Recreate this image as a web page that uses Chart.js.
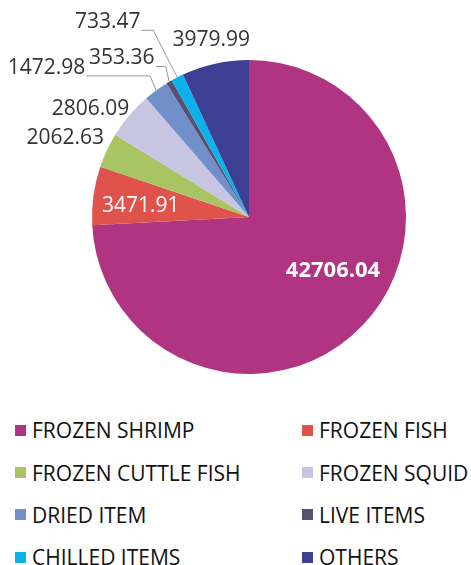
<!DOCTYPE html>
<html>
<head>
<meta charset="utf-8">
<script src="https://cdn.jsdelivr.net/npm/chart.js@4/dist/chart.umd.min.js"></script>
<style>
  html, body { margin: 0; padding: 0; background: #fff; }
  #wrap { width: 471px; height: 400px; position: relative; }
  #legend {
    display: grid;
    grid-template-columns: 302px 169px;
    grid-auto-rows: 42.4px;
    padding-top: 9px;
    font-family: "Open Sans", sans-serif;
    font-size: 21px;
    color: #111;
  }
  #legend div { display: flex; align-items: center; white-space: nowrap; }
  #legend div:nth-child(odd) { padding-left: 15px; }
  #legend span { width: 11px; height: 11px; margin-right: 6px; flex: none; }
</style>
</head>
<body>
<div id="wrap"><canvas id="pie"></canvas></div>
<div id="legend"></div>
<script>
const categories = ['FROZEN SHRIMP', 'FROZEN FISH', 'FROZEN CUTTLE FISH', 'FROZEN SQUID',
                    'DRIED ITEM', 'LIVE ITEMS', 'CHILLED ITEMS', 'OTHERS'];
const values = [42706.04, 3471.91, 2062.63, 2806.09, 1472.98, 353.36, 733.47, 3979.99];
const valueLabels = ['42706.04', '3471.91', '2062.63', '2806.09', '1472.98', '353.36', '733.47', '3979.99'];
const colors = ['#B03481', '#E0524C', '#A9C563', '#C8C5E2', '#7190C9', '#58516F', '#0BB1E9', '#3D3F94'];

// where each value label sits, relative to the pie centre in units of the radius
const labelSpots = [
  { dx: 0.535, dy: 0.34, color: '#fff', bold: true },
  { dx: -0.69, dy: -0.07, color: '#fff' },
  { dx: -1.17, dy: -0.50 },
  { dx: -1.01, dy: -0.69 },
  { dx: -1.29, dy: -0.95, knee: -0.63 },
  { dx: -0.81, dy: -1.01, knee: -0.53 },
  { dx: -0.90, dy: -1.24, knee: -0.61 },
  { dx: -0.24, dy: -1.13 }
];

const valueLabelPlugin = {
  id: 'valueLabels',
  afterDatasetsDraw(chart) {
    const ctx = chart.ctx;
    const meta = chart.getDatasetMeta(0);
    ctx.save();
    ctx.textAlign = 'center';
    ctx.textBaseline = 'middle';
    meta.data.forEach((arc, i) => {
      const { x, y, startAngle, endAngle, outerRadius } =
        arc.getProps(['x', 'y', 'startAngle', 'endAngle', 'outerRadius'], true);
      const spot = labelSpots[i];
      const tx = x + spot.dx * outerRadius;
      const ty = y + spot.dy * outerRadius;
      ctx.font = (spot.bold ? 'bold 22px' : '21px') + ' "Open Sans", sans-serif';
      ctx.fillStyle = spot.color || '#333';
      ctx.fillText(valueLabels[i], tx, ty);
      if (spot.knee !== undefined) {
        const w = ctx.measureText(valueLabels[i]).width;
        const mid = (startAngle + endAngle) / 2;
        const sx = tx + w / 2 + 1;
        const sy = ty + 8;
        ctx.strokeStyle = '#9a9a9a';
        ctx.lineWidth = 1;
        ctx.beginPath();
        ctx.moveTo(sx, sy);
        ctx.lineTo(x + spot.knee * outerRadius, sy);
        ctx.lineTo(x + Math.cos(mid) * outerRadius, y + Math.sin(mid) * outerRadius);
        ctx.stroke();
      }
    });
    ctx.restore();
  }
};

new Chart(document.getElementById('pie'), {
  type: 'pie',
  data: {
    labels: categories,
    datasets: [{
      data: values,
      backgroundColor: colors,
      borderWidth: 0
    }]
  },
  options: {
    responsive: true,
    maintainAspectRatio: false,
    animation: false,
    layout: { padding: { top: 60, bottom: 26, left: 92, right: 65 } },
    plugins: {
      legend: { display: false },
      tooltip: { enabled: false }
    }
  },
  plugins: [valueLabelPlugin]
});

const legend = document.getElementById('legend');
categories.forEach((name, i) => {
  const item = document.createElement('div');
  const box = document.createElement('span');
  box.style.background = colors[i];
  item.appendChild(box);
  item.appendChild(document.createTextNode(name));
  legend.appendChild(item);
});
</script>
</body>
</html>
